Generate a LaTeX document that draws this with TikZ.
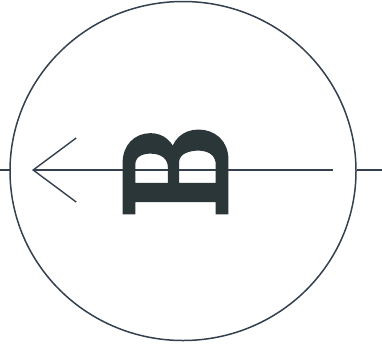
\documentclass[tikz,border=0pt]{standalone}
\usepackage{fontspec}
\usepackage{graphicx}
\usetikzlibrary{arrows.meta}
\newfontfamily\heavyB[FakeBold=4]{lmroman10-bold.otf}
\definecolor{ink}{HTML}{34404E}
\definecolor{glyph}{HTML}{2A3638}
\tikzset{
  rim/.style={draw=ink, line width=1.5pt},
  axis/.style={draw=ink, line width=1.4pt},
  glyphnode/.style={inner sep=0pt, outer sep=0pt, text=glyph}
}
\begin{document}
\begin{tikzpicture}[x=1pt,y=-1pt]
\useasboundingbox (0,0) rectangle (382,349);
\coordinate (c) at (183,171);
\draw[rim] (c) ellipse [x radius=173, y radius=169.5];
\coordinate (l0) at (0,170);
\coordinate (l1) at (10,170);
\coordinate (r0) at (357,170);
\coordinate (r1) at (382,170);
\coordinate (tip) at (32,170);
\coordinate (rend) at (333,170);
\draw[axis] (l0) -- (l1);
\draw[axis] (r0) -- (r1);
\draw[axis, -{Straight Barb[length=43pt,width=64pt,line width=1.4pt]}] (rend) -- (tip);
\node[glyphnode] (B) at (175.5,170.5) {\rotatebox{90}{\resizebox{92pt}{100pt}{\heavyB B}}};
\end{tikzpicture}
\end{document}
